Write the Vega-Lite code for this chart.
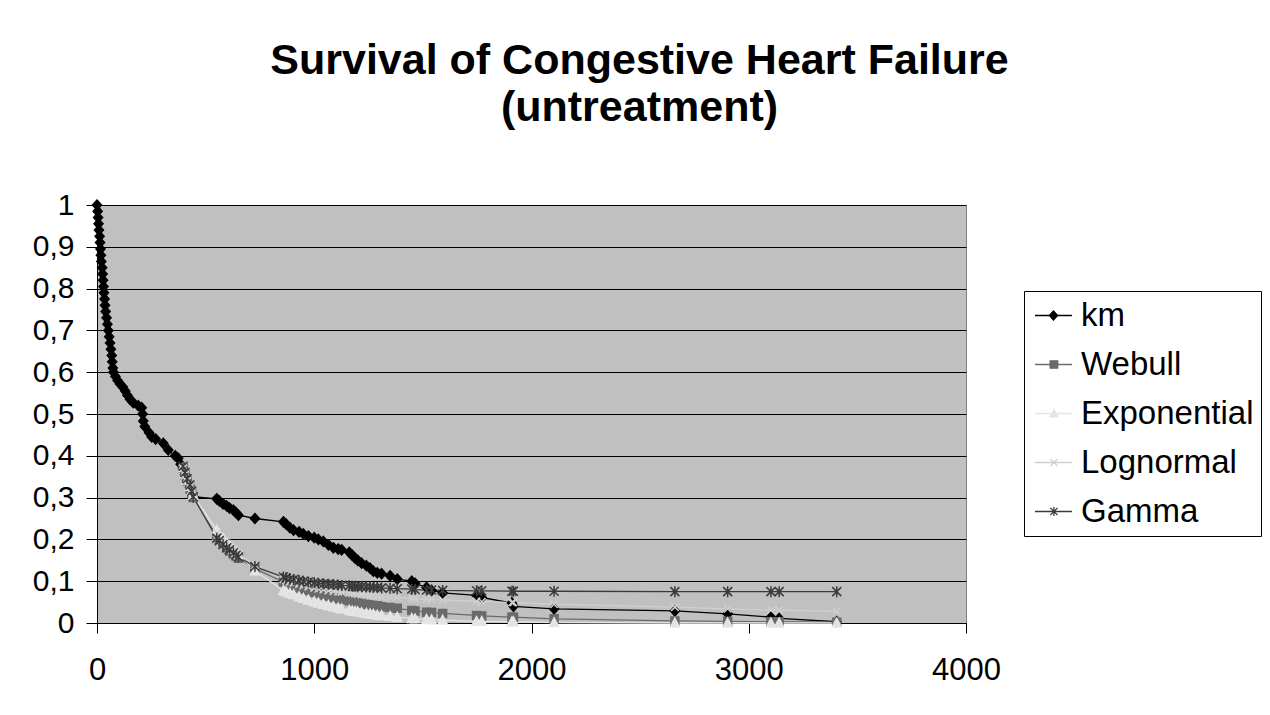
{
  "$schema": "https://vega.github.io/schema/vega-lite/v6.json",
  "autosize": "none",
  "width": 869,
  "height": 418,
  "padding": {"left": 97, "top": 205, "right": 304, "bottom": 92},
  "background": "white",
  "view": {"fill": "#C0C0C0", "stroke": "#808080", "strokeWidth": 1},
  "title": {
    "text": ["Survival of Congestive Heart Failure", "(untreatment)"],
    "font": "Liberation Sans",
    "fontSize": 43,
    "fontWeight": "bold",
    "lineHeight": 47,
    "color": "#000000",
    "anchor": "middle",
    "frame": "group",
    "dx": 108,
    "offset": 60
  },
  "datasets": {
    "surv": [
      {"t":0,"s":1,"g":"km"},{"t":3,"s":0.985,"g":"km"},{"t":5,"s":0.97,"g":"km"},{"t":7,"s":0.955,"g":"km"},{"t":9,"s":0.94,"g":"km"},{"t":12,"s":0.925,"g":"km"},{"t":14,"s":0.91,"g":"km"},{"t":16,"s":0.895,"g":"km"},{"t":18,"s":0.88,"g":"km"},{"t":20,"s":0.865,"g":"km"},{"t":24,"s":0.85,"g":"km"},{"t":26,"s":0.835,"g":"km"},{"t":28,"s":0.82,"g":"km"},{"t":30,"s":0.805,"g":"km"},{"t":32,"s":0.79,"g":"km"},{"t":35,"s":0.775,"g":"km"},{"t":37,"s":0.76,"g":"km"},{"t":40,"s":0.745,"g":"km"},{"t":44,"s":0.73,"g":"km"},{"t":48,"s":0.715,"g":"km"},{"t":52,"s":0.7,"g":"km"},{"t":56,"s":0.685,"g":"km"},{"t":60,"s":0.67,"g":"km"},{"t":64,"s":0.655,"g":"km"},{"t":68,"s":0.64,"g":"km"},{"t":70,"s":0.625,"g":"km"},{"t":73,"s":0.61,"g":"km"},{"t":76,"s":0.6,"g":"km"},{"t":85,"s":0.59,"g":"km"},{"t":95,"s":0.58,"g":"km"},{"t":106,"s":0.572,"g":"km"},{"t":118,"s":0.565,"g":"km"},{"t":130,"s":0.555,"g":"km"},{"t":140,"s":0.545,"g":"km"},{"t":152,"s":0.535,"g":"km"},{"t":167,"s":0.527,"g":"km"},{"t":190,"s":0.52,"g":"km"},{"t":206,"s":0.515,"g":"km"},{"t":210,"s":0.5,"g":"km"},{"t":213,"s":0.483,"g":"km"},{"t":220,"s":0.47,"g":"km"},{"t":240,"s":0.455,"g":"km"},{"t":252,"s":0.445,"g":"km"},{"t":270,"s":0.44,"g":"km"},{"t":305,"s":0.43,"g":"km"},{"t":328,"s":0.414,"g":"km"},{"t":360,"s":0.4,"g":"km"},{"t":374,"s":0.394,"g":"km"},{"t":385,"s":0.38,"g":"km"},{"t":396,"s":0.37,"g":"km"},{"t":405,"s":0.355,"g":"km"},{"t":415,"s":0.34,"g":"km"},{"t":428,"s":0.325,"g":"km"},{"t":436,"s":0.31,"g":"km"},{"t":443,"s":0.302,"g":"km"},{"t":551,"s":0.297,"g":"km"},{"t":563,"s":0.292,"g":"km"},{"t":580,"s":0.285,"g":"km"},{"t":597,"s":0.28,"g":"km"},{"t":610,"s":0.275,"g":"km"},{"t":628,"s":0.27,"g":"km"},{"t":640,"s":0.264,"g":"km"},{"t":651,"s":0.258,"g":"km"},{"t":727,"s":0.25,"g":"km"},{"t":858,"s":0.242,"g":"km"},{"t":870,"s":0.237,"g":"km"},{"t":888,"s":0.228,"g":"km"},{"t":905,"s":0.222,"g":"km"},{"t":930,"s":0.218,"g":"km"},{"t":950,"s":0.213,"g":"km"},{"t":973,"s":0.208,"g":"km"},{"t":1000,"s":0.204,"g":"km"},{"t":1019,"s":0.2,"g":"km"},{"t":1042,"s":0.195,"g":"km"},{"t":1065,"s":0.187,"g":"km"},{"t":1088,"s":0.18,"g":"km"},{"t":1110,"s":0.177,"g":"km"},{"t":1126,"s":0.175,"g":"km"},{"t":1161,"s":0.169,"g":"km"},{"t":1175,"s":0.162,"g":"km"},{"t":1188,"s":0.155,"g":"km"},{"t":1200,"s":0.15,"g":"km"},{"t":1218,"s":0.143,"g":"km"},{"t":1240,"s":0.137,"g":"km"},{"t":1257,"s":0.131,"g":"km"},{"t":1272,"s":0.124,"g":"km"},{"t":1290,"s":0.12,"g":"km"},{"t":1310,"s":0.118,"g":"km"},{"t":1349,"s":0.113,"g":"km"},{"t":1382,"s":0.105,"g":"km"},{"t":1449,"s":0.1,"g":"km"},{"t":1464,"s":0.095,"g":"km"},{"t":1517,"s":0.085,"g":"km"},{"t":1540,"s":0.078,"g":"km"},{"t":1591,"s":0.072,"g":"km"},{"t":1747,"s":0.066,"g":"km"},{"t":1771,"s":0.061,"g":"km"},{"t":1910,"s":0.048,"g":"km"},{"t":1917,"s":0.04,"g":"km"},{"t":2104,"s":0.034,"g":"km"},{"t":2660,"s":0.029,"g":"km"},{"t":2903,"s":0.022,"g":"km"},{"t":3102,"s":0.014,"g":"km"},{"t":3140,"s":0.011,"g":"km"},{"t":3405,"s":0.003,"g":"km"},

      {"t":396,"s":0.37,"g":"Webull"},{"t":405,"s":0.355,"g":"Webull"},{"t":415,"s":0.34,"g":"Webull"},{"t":428,"s":0.322,"g":"Webull"},{"t":436,"s":0.31,"g":"Webull"},{"t":443,"s":0.3,"g":"Webull"},{"t":551,"s":0.21,"g":"Webull"},{"t":563,"s":0.2,"g":"Webull"},{"t":580,"s":0.19,"g":"Webull"},{"t":597,"s":0.18,"g":"Webull"},{"t":610,"s":0.172,"g":"Webull"},{"t":628,"s":0.165,"g":"Webull"},{"t":640,"s":0.16,"g":"Webull"},{"t":651,"s":0.155,"g":"Webull"},{"t":727,"s":0.13,"g":"Webull"},{"t":858,"s":0.098,"g":"Webull"},{"t":870,"s":0.095,"g":"Webull"},{"t":888,"s":0.091,"g":"Webull"},{"t":905,"s":0.088,"g":"Webull"},{"t":930,"s":0.084,"g":"Webull"},{"t":950,"s":0.081,"g":"Webull"},{"t":973,"s":0.077,"g":"Webull"},{"t":1000,"s":0.073,"g":"Webull"},{"t":1019,"s":0.07,"g":"Webull"},{"t":1042,"s":0.067,"g":"Webull"},{"t":1065,"s":0.064,"g":"Webull"},{"t":1088,"s":0.061,"g":"Webull"},{"t":1110,"s":0.058,"g":"Webull"},{"t":1126,"s":0.056,"g":"Webull"},{"t":1161,"s":0.053,"g":"Webull"},{"t":1175,"s":0.051,"g":"Webull"},{"t":1188,"s":0.05,"g":"Webull"},{"t":1200,"s":0.048,"g":"Webull"},{"t":1218,"s":0.047,"g":"Webull"},{"t":1240,"s":0.045,"g":"Webull"},{"t":1257,"s":0.043,"g":"Webull"},{"t":1272,"s":0.042,"g":"Webull"},{"t":1290,"s":0.041,"g":"Webull"},{"t":1310,"s":0.039,"g":"Webull"},{"t":1349,"s":0.037,"g":"Webull"},{"t":1382,"s":0.035,"g":"Webull"},{"t":1449,"s":0.03,"g":"Webull"},{"t":1464,"s":0.029,"g":"Webull"},{"t":1517,"s":0.026,"g":"Webull"},{"t":1540,"s":0.025,"g":"Webull"},{"t":1591,"s":0.023,"g":"Webull"},{"t":1747,"s":0.018,"g":"Webull"},{"t":1771,"s":0.017,"g":"Webull"},{"t":1910,"s":0.014,"g":"Webull"},{"t":1917,"s":0.014,"g":"Webull"},{"t":2104,"s":0.01,"g":"Webull"},{"t":2660,"s":0.005,"g":"Webull"},{"t":2903,"s":0.004,"g":"Webull"},{"t":3102,"s":0.003,"g":"Webull"},{"t":3140,"s":0.003,"g":"Webull"},{"t":3405,"s":0.002,"g":"Webull"},

      {"t":396,"s":0.372,"g":"Exponential"},{"t":405,"s":0.357,"g":"Exponential"},{"t":415,"s":0.342,"g":"Exponential"},{"t":428,"s":0.327,"g":"Exponential"},{"t":436,"s":0.316,"g":"Exponential"},{"t":443,"s":0.306,"g":"Exponential"},{"t":551,"s":0.222,"g":"Exponential"},{"t":563,"s":0.213,"g":"Exponential"},{"t":580,"s":0.203,"g":"Exponential"},{"t":597,"s":0.193,"g":"Exponential"},{"t":610,"s":0.185,"g":"Exponential"},{"t":628,"s":0.176,"g":"Exponential"},{"t":640,"s":0.17,"g":"Exponential"},{"t":651,"s":0.164,"g":"Exponential"},{"t":727,"s":0.125,"g":"Exponential"},{"t":858,"s":0.078,"g":"Exponential"},{"t":870,"s":0.075,"g":"Exponential"},{"t":888,"s":0.071,"g":"Exponential"},{"t":905,"s":0.068,"g":"Exponential"},{"t":930,"s":0.063,"g":"Exponential"},{"t":950,"s":0.059,"g":"Exponential"},{"t":973,"s":0.055,"g":"Exponential"},{"t":1000,"s":0.051,"g":"Exponential"},{"t":1019,"s":0.048,"g":"Exponential"},{"t":1042,"s":0.045,"g":"Exponential"},{"t":1065,"s":0.042,"g":"Exponential"},{"t":1088,"s":0.039,"g":"Exponential"},{"t":1110,"s":0.036,"g":"Exponential"},{"t":1126,"s":0.034,"g":"Exponential"},{"t":1161,"s":0.031,"g":"Exponential"},{"t":1175,"s":0.029,"g":"Exponential"},{"t":1188,"s":0.028,"g":"Exponential"},{"t":1200,"s":0.027,"g":"Exponential"},{"t":1218,"s":0.025,"g":"Exponential"},{"t":1240,"s":0.023,"g":"Exponential"},{"t":1257,"s":0.022,"g":"Exponential"},{"t":1272,"s":0.021,"g":"Exponential"},{"t":1290,"s":0.019,"g":"Exponential"},{"t":1310,"s":0.018,"g":"Exponential"},{"t":1349,"s":0.016,"g":"Exponential"},{"t":1382,"s":0.014,"g":"Exponential"},{"t":1449,"s":0.011,"g":"Exponential"},{"t":1464,"s":0.01,"g":"Exponential"},{"t":1517,"s":0.009,"g":"Exponential"},{"t":1540,"s":0.008,"g":"Exponential"},{"t":1591,"s":0.007,"g":"Exponential"},{"t":1747,"s":0.004,"g":"Exponential"},{"t":1771,"s":0.004,"g":"Exponential"},{"t":1910,"s":0.003,"g":"Exponential"},{"t":1917,"s":0.003,"g":"Exponential"},{"t":2104,"s":0.001,"g":"Exponential"},{"t":2660,"s":0,"g":"Exponential"},{"t":2903,"s":0,"g":"Exponential"},{"t":3102,"s":0,"g":"Exponential"},{"t":3140,"s":0,"g":"Exponential"},{"t":3405,"s":0,"g":"Exponential"},

      {"t":396,"s":0.37,"g":"Lognormal"},{"t":405,"s":0.355,"g":"Lognormal"},{"t":415,"s":0.34,"g":"Lognormal"},{"t":428,"s":0.325,"g":"Lognormal"},{"t":436,"s":0.312,"g":"Lognormal"},{"t":443,"s":0.302,"g":"Lognormal"},{"t":551,"s":0.215,"g":"Lognormal"},{"t":563,"s":0.207,"g":"Lognormal"},{"t":580,"s":0.198,"g":"Lognormal"},{"t":597,"s":0.19,"g":"Lognormal"},{"t":610,"s":0.183,"g":"Lognormal"},{"t":628,"s":0.176,"g":"Lognormal"},{"t":640,"s":0.171,"g":"Lognormal"},{"t":651,"s":0.166,"g":"Lognormal"},{"t":727,"s":0.138,"g":"Lognormal"},{"t":858,"s":0.105,"g":"Lognormal"},{"t":870,"s":0.102,"g":"Lognormal"},{"t":888,"s":0.099,"g":"Lognormal"},{"t":905,"s":0.096,"g":"Lognormal"},{"t":930,"s":0.093,"g":"Lognormal"},{"t":950,"s":0.09,"g":"Lognormal"},{"t":973,"s":0.087,"g":"Lognormal"},{"t":1000,"s":0.084,"g":"Lognormal"},{"t":1019,"s":0.082,"g":"Lognormal"},{"t":1042,"s":0.08,"g":"Lognormal"},{"t":1065,"s":0.078,"g":"Lognormal"},{"t":1088,"s":0.076,"g":"Lognormal"},{"t":1110,"s":0.075,"g":"Lognormal"},{"t":1126,"s":0.074,"g":"Lognormal"},{"t":1161,"s":0.072,"g":"Lognormal"},{"t":1175,"s":0.071,"g":"Lognormal"},{"t":1188,"s":0.07,"g":"Lognormal"},{"t":1200,"s":0.069,"g":"Lognormal"},{"t":1218,"s":0.068,"g":"Lognormal"},{"t":1240,"s":0.067,"g":"Lognormal"},{"t":1257,"s":0.066,"g":"Lognormal"},{"t":1272,"s":0.065,"g":"Lognormal"},{"t":1290,"s":0.064,"g":"Lognormal"},{"t":1310,"s":0.063,"g":"Lognormal"},{"t":1349,"s":0.062,"g":"Lognormal"},{"t":1382,"s":0.061,"g":"Lognormal"},{"t":1449,"s":0.059,"g":"Lognormal"},{"t":1464,"s":0.058,"g":"Lognormal"},{"t":1517,"s":0.057,"g":"Lognormal"},{"t":1540,"s":0.056,"g":"Lognormal"},{"t":1591,"s":0.055,"g":"Lognormal"},{"t":1747,"s":0.052,"g":"Lognormal"},{"t":1771,"s":0.051,"g":"Lognormal"},{"t":1910,"s":0.049,"g":"Lognormal"},{"t":1917,"s":0.049,"g":"Lognormal"},{"t":2104,"s":0.045,"g":"Lognormal"},{"t":2660,"s":0.038,"g":"Lognormal"},{"t":2903,"s":0.034,"g":"Lognormal"},{"t":3102,"s":0.031,"g":"Lognormal"},{"t":3140,"s":0.031,"g":"Lognormal"},{"t":3405,"s":0.028,"g":"Lognormal"},

      {"t":396,"s":0.375,"g":"Gamma"},{"t":405,"s":0.36,"g":"Gamma"},{"t":415,"s":0.345,"g":"Gamma"},{"t":428,"s":0.33,"g":"Gamma"},{"t":436,"s":0.315,"g":"Gamma"},{"t":443,"s":0.302,"g":"Gamma"},{"t":551,"s":0.203,"g":"Gamma"},{"t":563,"s":0.197,"g":"Gamma"},{"t":580,"s":0.188,"g":"Gamma"},{"t":597,"s":0.18,"g":"Gamma"},{"t":610,"s":0.175,"g":"Gamma"},{"t":628,"s":0.168,"g":"Gamma"},{"t":640,"s":0.162,"g":"Gamma"},{"t":651,"s":0.158,"g":"Gamma"},{"t":727,"s":0.135,"g":"Gamma"},{"t":858,"s":0.11,"g":"Gamma"},{"t":870,"s":0.108,"g":"Gamma"},{"t":888,"s":0.106,"g":"Gamma"},{"t":905,"s":0.104,"g":"Gamma"},{"t":930,"s":0.102,"g":"Gamma"},{"t":950,"s":0.1,"g":"Gamma"},{"t":973,"s":0.098,"g":"Gamma"},{"t":1000,"s":0.097,"g":"Gamma"},{"t":1019,"s":0.095,"g":"Gamma"},{"t":1042,"s":0.094,"g":"Gamma"},{"t":1065,"s":0.093,"g":"Gamma"},{"t":1088,"s":0.092,"g":"Gamma"},{"t":1110,"s":0.091,"g":"Gamma"},{"t":1126,"s":0.09,"g":"Gamma"},{"t":1161,"s":0.089,"g":"Gamma"},{"t":1175,"s":0.088,"g":"Gamma"},{"t":1188,"s":0.088,"g":"Gamma"},{"t":1200,"s":0.087,"g":"Gamma"},{"t":1218,"s":0.087,"g":"Gamma"},{"t":1240,"s":0.086,"g":"Gamma"},{"t":1257,"s":0.086,"g":"Gamma"},{"t":1272,"s":0.085,"g":"Gamma"},{"t":1290,"s":0.085,"g":"Gamma"},{"t":1310,"s":0.084,"g":"Gamma"},{"t":1349,"s":0.083,"g":"Gamma"},{"t":1382,"s":0.082,"g":"Gamma"},{"t":1449,"s":0.081,"g":"Gamma"},{"t":1464,"s":0.08,"g":"Gamma"},{"t":1517,"s":0.079,"g":"Gamma"},{"t":1540,"s":0.079,"g":"Gamma"},{"t":1591,"s":0.078,"g":"Gamma"},{"t":1747,"s":0.077,"g":"Gamma"},{"t":1771,"s":0.077,"g":"Gamma"},{"t":1910,"s":0.076,"g":"Gamma"},{"t":1917,"s":0.076,"g":"Gamma"},{"t":2104,"s":0.076,"g":"Gamma"},{"t":2660,"s":0.075,"g":"Gamma"},{"t":2903,"s":0.075,"g":"Gamma"},{"t":3102,"s":0.075,"g":"Gamma"},{"t":3140,"s":0.075,"g":"Gamma"},{"t":3405,"s":0.075,"g":"Gamma"}
    ]
  },
  "data": {"name": "surv"},
  "encoding": {
    "x": {
      "field": "t", "type": "quantitative",
      "scale": {"domain": [0, 4000], "nice": false},
      "axis": {
        "title": null, "values": [0, 1000, 2000, 3000, 4000], "format": "d", "grid": false,
        "domainColor": "#000000", "tickColor": "#000000", "tickSize": 10,
        "labelFont": "Liberation Sans", "labelFontSize": 31, "labelColor": "#000000",
        "labelPadding": 22, "labelFlush": false
      }
    },
    "y": {
      "field": "s", "type": "quantitative",
      "scale": {"domain": [0, 1], "nice": false},
      "axis": {
        "title": null, "values": [0, 0.1, 0.2, 0.3, 0.4, 0.5, 0.6, 0.7, 0.8, 0.9, 1],
        "labelExpr": "replace(format(datum.value, '.1~f'), '.', ',')",
        "grid": true, "gridColor": "#000000", "gridWidth": 1,
        "domainColor": "#000000", "tickColor": "#000000", "tickSize": 11,
        "labelFont": "Liberation Sans", "labelFontSize": 30, "labelColor": "#000000",
        "labelPadding": 12, "labelFlush": false
      }
    },
    "stroke": {
      "field": "g", "type": "nominal",
      "scale": {"domain": ["km", "Webull", "Exponential", "Lognormal", "Gamma"], "range": ["#000000", "#6a6a6a", "#e6e6e6", "#cfcfcf", "#3a3a3a"]},
      "legend": {
        "title": null,
        "orient": "none",
        "legendX": 927,
        "legendY": 86,
        "fillColor": "#ffffff",
        "strokeColor": "#000000",
        "padding": 7,
        "symbolSize": 1089,
        "symbolStrokeWidth": 1.3,
        "labelFont": "Liberation Sans",
        "labelFontSize": 33,
        "labelColor": "#000000",
        "labelOffset": 15,
        "rowPadding": 14,
        "labelLimit": 400,
        "encoding": {
          "symbols": {
            "shape": {"value": {"expr": "datum.value === 'km' ? 'M-0.82,0H1.42M0.3,-0.28L0.55,0L0.3,0.28L0.05,0Z' : datum.value === 'Webull' ? 'M-0.82,0H1.42M0.1,-0.22H0.56V0.22H0.1Z' : datum.value === 'Exponential' ? 'M-0.82,0H1.42M0.33,-0.26L0.57,0.2H0.09Z' : datum.value === 'Lognormal' ? 'M-0.82,0H1.42M0.11,-0.22L0.55,0.22M0.11,0.22L0.55,-0.22' : 'M-0.82,0H1.42M0.11,-0.22L0.55,0.22M0.11,0.22L0.55,-0.22M0.33,-0.28V0.28'"}}
          }
        }
      }
    }
  },
  "layer": [
    {
      "mark": {"type": "line", "strokeWidth": 1.3}
    },
    {
      "mark": {"type": "point", "filled": true, "strokeWidth": 1.5, "opacity": 1, "size": 100},
      "encoding": {
        "fill": {
          "field": "g", "type": "nominal",
          "scale": {"domain": ["km", "Webull", "Exponential", "Lognormal", "Gamma"], "range": ["#000000", "#6a6a6a", "#e2e2e2", "#cfcfcf", "#2a2a2a"]},
          "legend": null
        },
        "shape": {
          "field": "g", "type": "nominal",
          "scale": {"domain": ["Gamma", "Lognormal", "Exponential", "Webull", "km"], "range": ["M-0.9,-0.9L0.9,0.9M-0.9,0.9L0.9,-0.9M0,-1.1V1.1", "M-0.75,-0.75L0.75,0.75M-0.75,0.75L0.75,-0.75", "M0,-0.95L0.9,0.8H-0.9Z", "M-0.8,-0.8H0.8V0.8H-0.8Z", "M0,-1L0.9,0L0,1L-0.9,0Z"]},
          "legend": null
        }
      }
    }
  ]
}
